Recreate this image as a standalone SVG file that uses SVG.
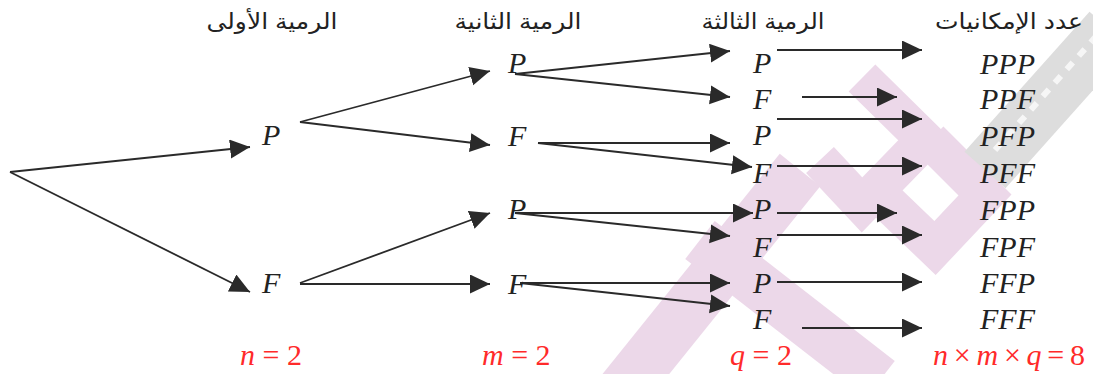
<svg xmlns="http://www.w3.org/2000/svg" width="1093" height="374" viewBox="0 0 1093 374">
<style>
.hdr{font-family:Liberation Sans, DejaVu Sans, sans-serif;font-size:22px;fill:#222;text-anchor:middle}
.lbl{font-family:Liberation Serif, DejaVu Serif, serif;font-style:italic;font-size:30px;fill:#222}
.red{font-family:Liberation Serif, DejaVu Serif, serif;font-size:30px;fill:#ff2a2a}
.i{font-style:italic}
.edge{stroke:#2a2a2a;stroke-width:1.8;fill:none;marker-end:url(#ah)}
.wm{fill:none;stroke:#e6cbe2;stroke-linejoin:miter}
</style>
<defs>
<marker id="ah" markerUnits="userSpaceOnUse" markerWidth="22" markerHeight="20" refX="20" refY="9.5" orient="auto" viewBox="0 0 22 20">
<path d="M0,0 L20,9.5 L0,19 z" fill="#2a2a2a"/>
</marker>
</defs>
<rect width="1093" height="374" fill="#fff"/>
<g id="watermark" opacity="0.75">
<path class="wm" stroke-width="52" d="M615,400 L800,170"/>
<path class="wm" stroke-width="48" d="M700,240 L880,380"/>
<path class="wm" stroke-width="38" d="M862,78 L925,140 L862,205 L820,160"/>
<path class="wm" stroke-width="38" d="M930,140 L985,195 L935,248 L885,200"/>
<path fill="none" stroke="#d2d2d2" stroke-width="55" d="M985,170 L1110,30"/>
<path fill="none" stroke="#f4f4f4" stroke-width="6" stroke-dasharray="9 9" d="M995,150 L1100,32"/>
</g>
<g id="headers">
<text class="hdr" x="272" y="29" textLength="131" lengthAdjust="spacingAndGlyphs">الرمية الأولى</text>
<text class="hdr" x="518" y="29" textLength="127" lengthAdjust="spacingAndGlyphs">الرمية الثانية</text>
<text class="hdr" x="763" y="29" textLength="123" lengthAdjust="spacingAndGlyphs">الرمية الثالثة</text>
<text class="hdr" x="1009" y="29" textLength="148" lengthAdjust="spacingAndGlyphs">عدد الإمكانيات</text>
</g>
<g id="connectors">
<line class="edge" x1="10" y1="172" x2="250" y2="147"/>
<line class="edge" x1="10" y1="172" x2="250" y2="292"/>
<line class="edge" x1="300" y1="122" x2="490" y2="71"/>
<line class="edge" x1="300" y1="122" x2="490" y2="145"/>
<line class="edge" x1="300" y1="283" x2="490" y2="213"/>
<line class="edge" x1="300" y1="284" x2="490" y2="284"/>
<line class="edge" x1="515" y1="74" x2="730" y2="51"/>
<line class="edge" x1="515" y1="74" x2="730" y2="97"/>
<line class="edge" x1="538" y1="143" x2="730" y2="143"/>
<line class="edge" x1="538" y1="143" x2="752" y2="167"/>
<line class="edge" x1="515" y1="213" x2="753" y2="213"/>
<line class="edge" x1="515" y1="213" x2="730" y2="236"/>
<line class="edge" x1="520" y1="283" x2="730" y2="283"/>
<line class="edge" x1="520" y1="283" x2="730" y2="306"/>
<line class="edge" x1="777" y1="50" x2="922" y2="50"/>
<line class="edge" x1="802" y1="97" x2="897" y2="97"/>
<line class="edge" x1="777" y1="119" x2="922" y2="119"/>
<line class="edge" x1="777" y1="166" x2="922" y2="166"/>
<line class="edge" x1="777" y1="213" x2="897" y2="213"/>
<line class="edge" x1="777" y1="235" x2="922" y2="235"/>
<line class="edge" x1="777" y1="282" x2="922" y2="282"/>
<line class="edge" x1="802" y1="328" x2="922" y2="328"/>
</g>
<g id="n1-P"><text class="lbl" x="262" y="145">P</text></g>
<g id="n1-F"><text class="lbl" x="262" y="293">F</text></g>
<g id="n2-P1"><text class="lbl" x="508" y="73">P</text></g>
<g id="n2-F1"><text class="lbl" x="508" y="146">F</text></g>
<g id="n2-P2"><text class="lbl" x="508" y="219">P</text></g>
<g id="n2-F2"><text class="lbl" x="508" y="294">F</text></g>
<g id="n3-1"><text class="lbl" x="753" y="73">P</text></g>
<g id="n3-2"><text class="lbl" x="753" y="109">F</text></g>
<g id="n3-3"><text class="lbl" x="753" y="145">P</text></g>
<g id="n3-4"><text class="lbl" x="753" y="183">F</text></g>
<g id="n3-5"><text class="lbl" x="753" y="219">P</text></g>
<g id="n3-6"><text class="lbl" x="753" y="257">F</text></g>
<g id="n3-7"><text class="lbl" x="753" y="293">P</text></g>
<g id="n3-8"><text class="lbl" x="753" y="329">F</text></g>
<g id="r1"><text class="lbl" x="980" y="74">PPP</text></g>
<g id="r2"><text class="lbl" x="980" y="109">PPF</text></g>
<g id="r3"><text class="lbl" x="980" y="146">PFP</text></g>
<g id="r4"><text class="lbl" x="980" y="183">PFF</text></g>
<g id="r5"><text class="lbl" x="980" y="220">FPP</text></g>
<g id="r6"><text class="lbl" x="980" y="257">FPF</text></g>
<g id="r7"><text class="lbl" x="980" y="293">FFP</text></g>
<g id="r8"><text class="lbl" x="980" y="329">FFF</text></g>
<g id="counts">
<text class="red" x="240" y="365" xml:space="preserve"><tspan class="i">n</tspan> = 2</text>
<text class="red" x="482" y="365" xml:space="preserve"><tspan class="i">m</tspan> = 2</text>
<text class="red" x="730" y="365" xml:space="preserve"><tspan class="i">q</tspan> = 2</text>
<text class="red" x="933" y="365" textLength="152" lengthAdjust="spacing" xml:space="preserve"><tspan class="i">n</tspan> × <tspan class="i">m</tspan> × <tspan class="i">q</tspan> = 8</text>
</g>
</svg>
